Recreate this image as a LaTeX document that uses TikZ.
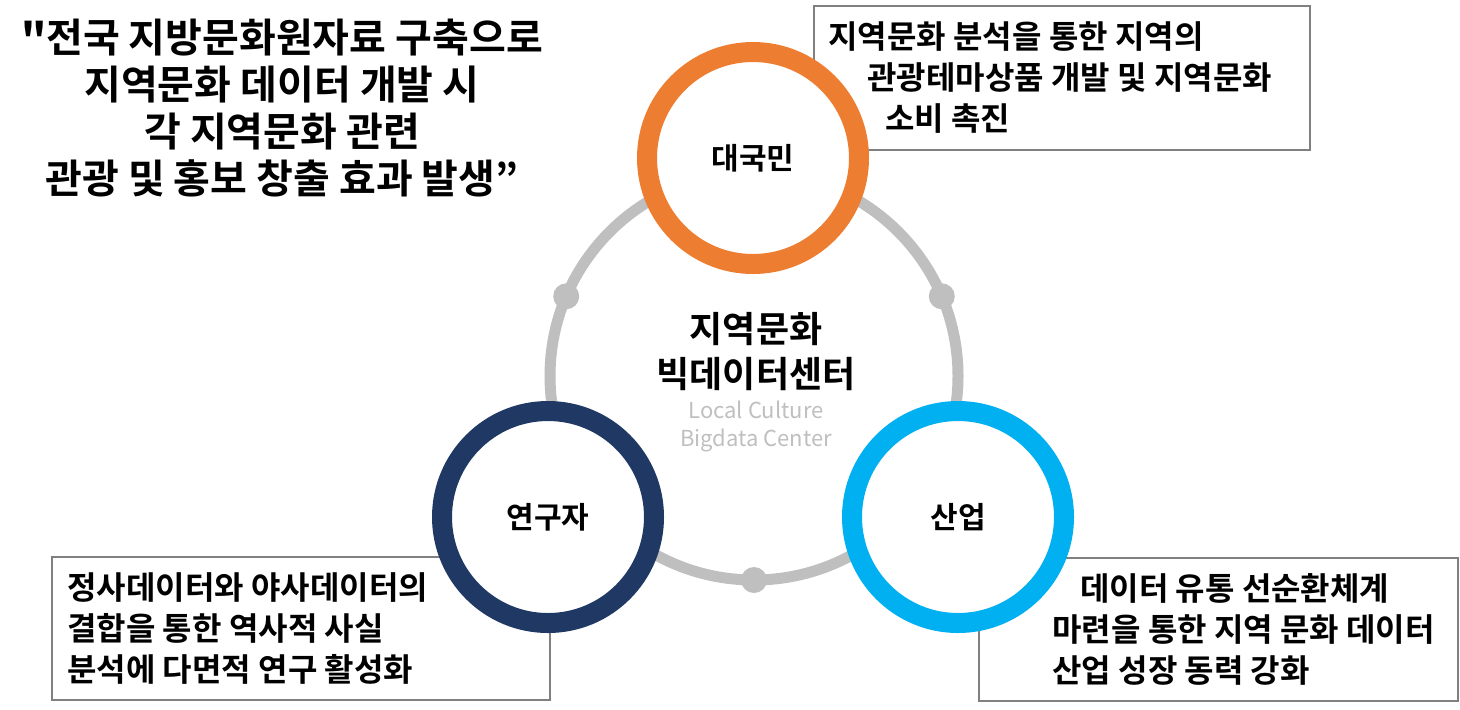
\documentclass[tikz,border=0pt]{standalone}
\usepackage{fontspec}
\setmainfont{Noto Sans CJK KR}[BoldFont={Noto Sans CJK KR Bold}]
\newfontfamily\quotefont{Noto Sans CJK KR Bold}
\usetikzlibrary{positioning}
\definecolor{nationorange}{HTML}{ED7D31}
\definecolor{researchnavy}{HTML}{203864}
\definecolor{industryblue}{HTML}{00B0F0}
\definecolor{ringgray}{HTML}{BFBFBF}
\definecolor{notegray}{HTML}{808080}
\newlength\ringradius
\setlength\ringradius{102pt}
\newlength\rolesize
\setlength\rolesize{106pt}

\begin{document}
\begin{tikzpicture}[
    x=0.5pt, y=-0.5pt,
    ring/.style = {
        draw=ringgray,
        line width=5.5pt,
    },
    joint/.style = {
        circle,
        fill=ringgray,
        minimum size=13pt,
        inner sep=0pt,
    },
    role/.style = {
        circle,
        draw=#1,
        line width=10pt,
        fill=white,
        minimum size=\rolesize,
        inner sep=0pt,
        font=\fontsize{15}{17}\selectfont\bfseries,
    },
    note/.style = {
        draw=notegray,
        line width=1pt,
        anchor=north west,
        inner sep=0pt,
    },
    notetext/.style = {
        anchor=west,
        align=left,
        inner sep=0pt,
        font=\fontsize{16}{20.5}\selectfont\bfseries,
    },
]
\useasboundingbox (0,0) rectangle (1460,709);
\node [align=center, font=\fontsize{20}{23.5}\selectfont\bfseries] (headline) at (282,108)
    {{\quotefont"}전국 지방문화원자료 구축으로\\지역문화 데이터 개발 시\\각 지역문화 관련\\관광 및 홍보 창출 효과 발생”};
% boxes go under the circles
\node [note, minimum width=248pt, minimum height=72pt] (nationbox) at (813,5) {};
\node [notetext] (nationnote) at ([xshift=7.5pt]nationbox.west)
    {지역문화 분석을 통한 지역의\\\hspace*{19.5pt}관광테마상품 개발 및 지역문화\\\hspace*{28.5pt}소비 촉진};
\node [note, minimum width=249pt, minimum height=71.5pt] (researchbox) at (51,556) {};
\node [notetext] (researchnote) at ([xshift=8pt]researchbox.west)
    {정사데이터와 야사데이터의\\결합을 통한 역사적 사실\\분석에 다면적 연구 활성화};
\node [note, minimum width=239.5pt, minimum height=71.5pt] (industrybox) at (978,557) {};
\node [notetext] (industrynote) at ([xshift=37pt]industrybox.west)
    {\hspace*{14pt}데이터 유통 선순환체계\\마련을 통한 지역 문화 데이터\\산업 성장 동력 강화};
\coordinate (ringc) at (754,376);
\draw [ring] (ringc) circle [radius=\ringradius];
\path (ringc) ++(157:\ringradius) node [joint] (jleft) {};
\path (ringc) ++(23:\ringradius) node [joint] (jright) {};
\path (ringc) ++(270:\ringradius) node [joint] (jbottom) {};
\node [role=nationorange] (nation) at (753,158) {대국민};
\node [role=researchnavy] (researcher) at (548,517) {연구자};
\node [role=industryblue] (industry) at (958,517) {산업};
\node [align=center, font=\fontsize{18}{22.5}\selectfont\bfseries] (hub) at (756,352) {지역문화\\빅데이터센터};
\node [align=center, text=ringgray, font=\fontsize{11}{14}\selectfont] (hubsub) at (756,426) {Local Culture\\Bigdata Center};
\end{tikzpicture}
\end{document}
